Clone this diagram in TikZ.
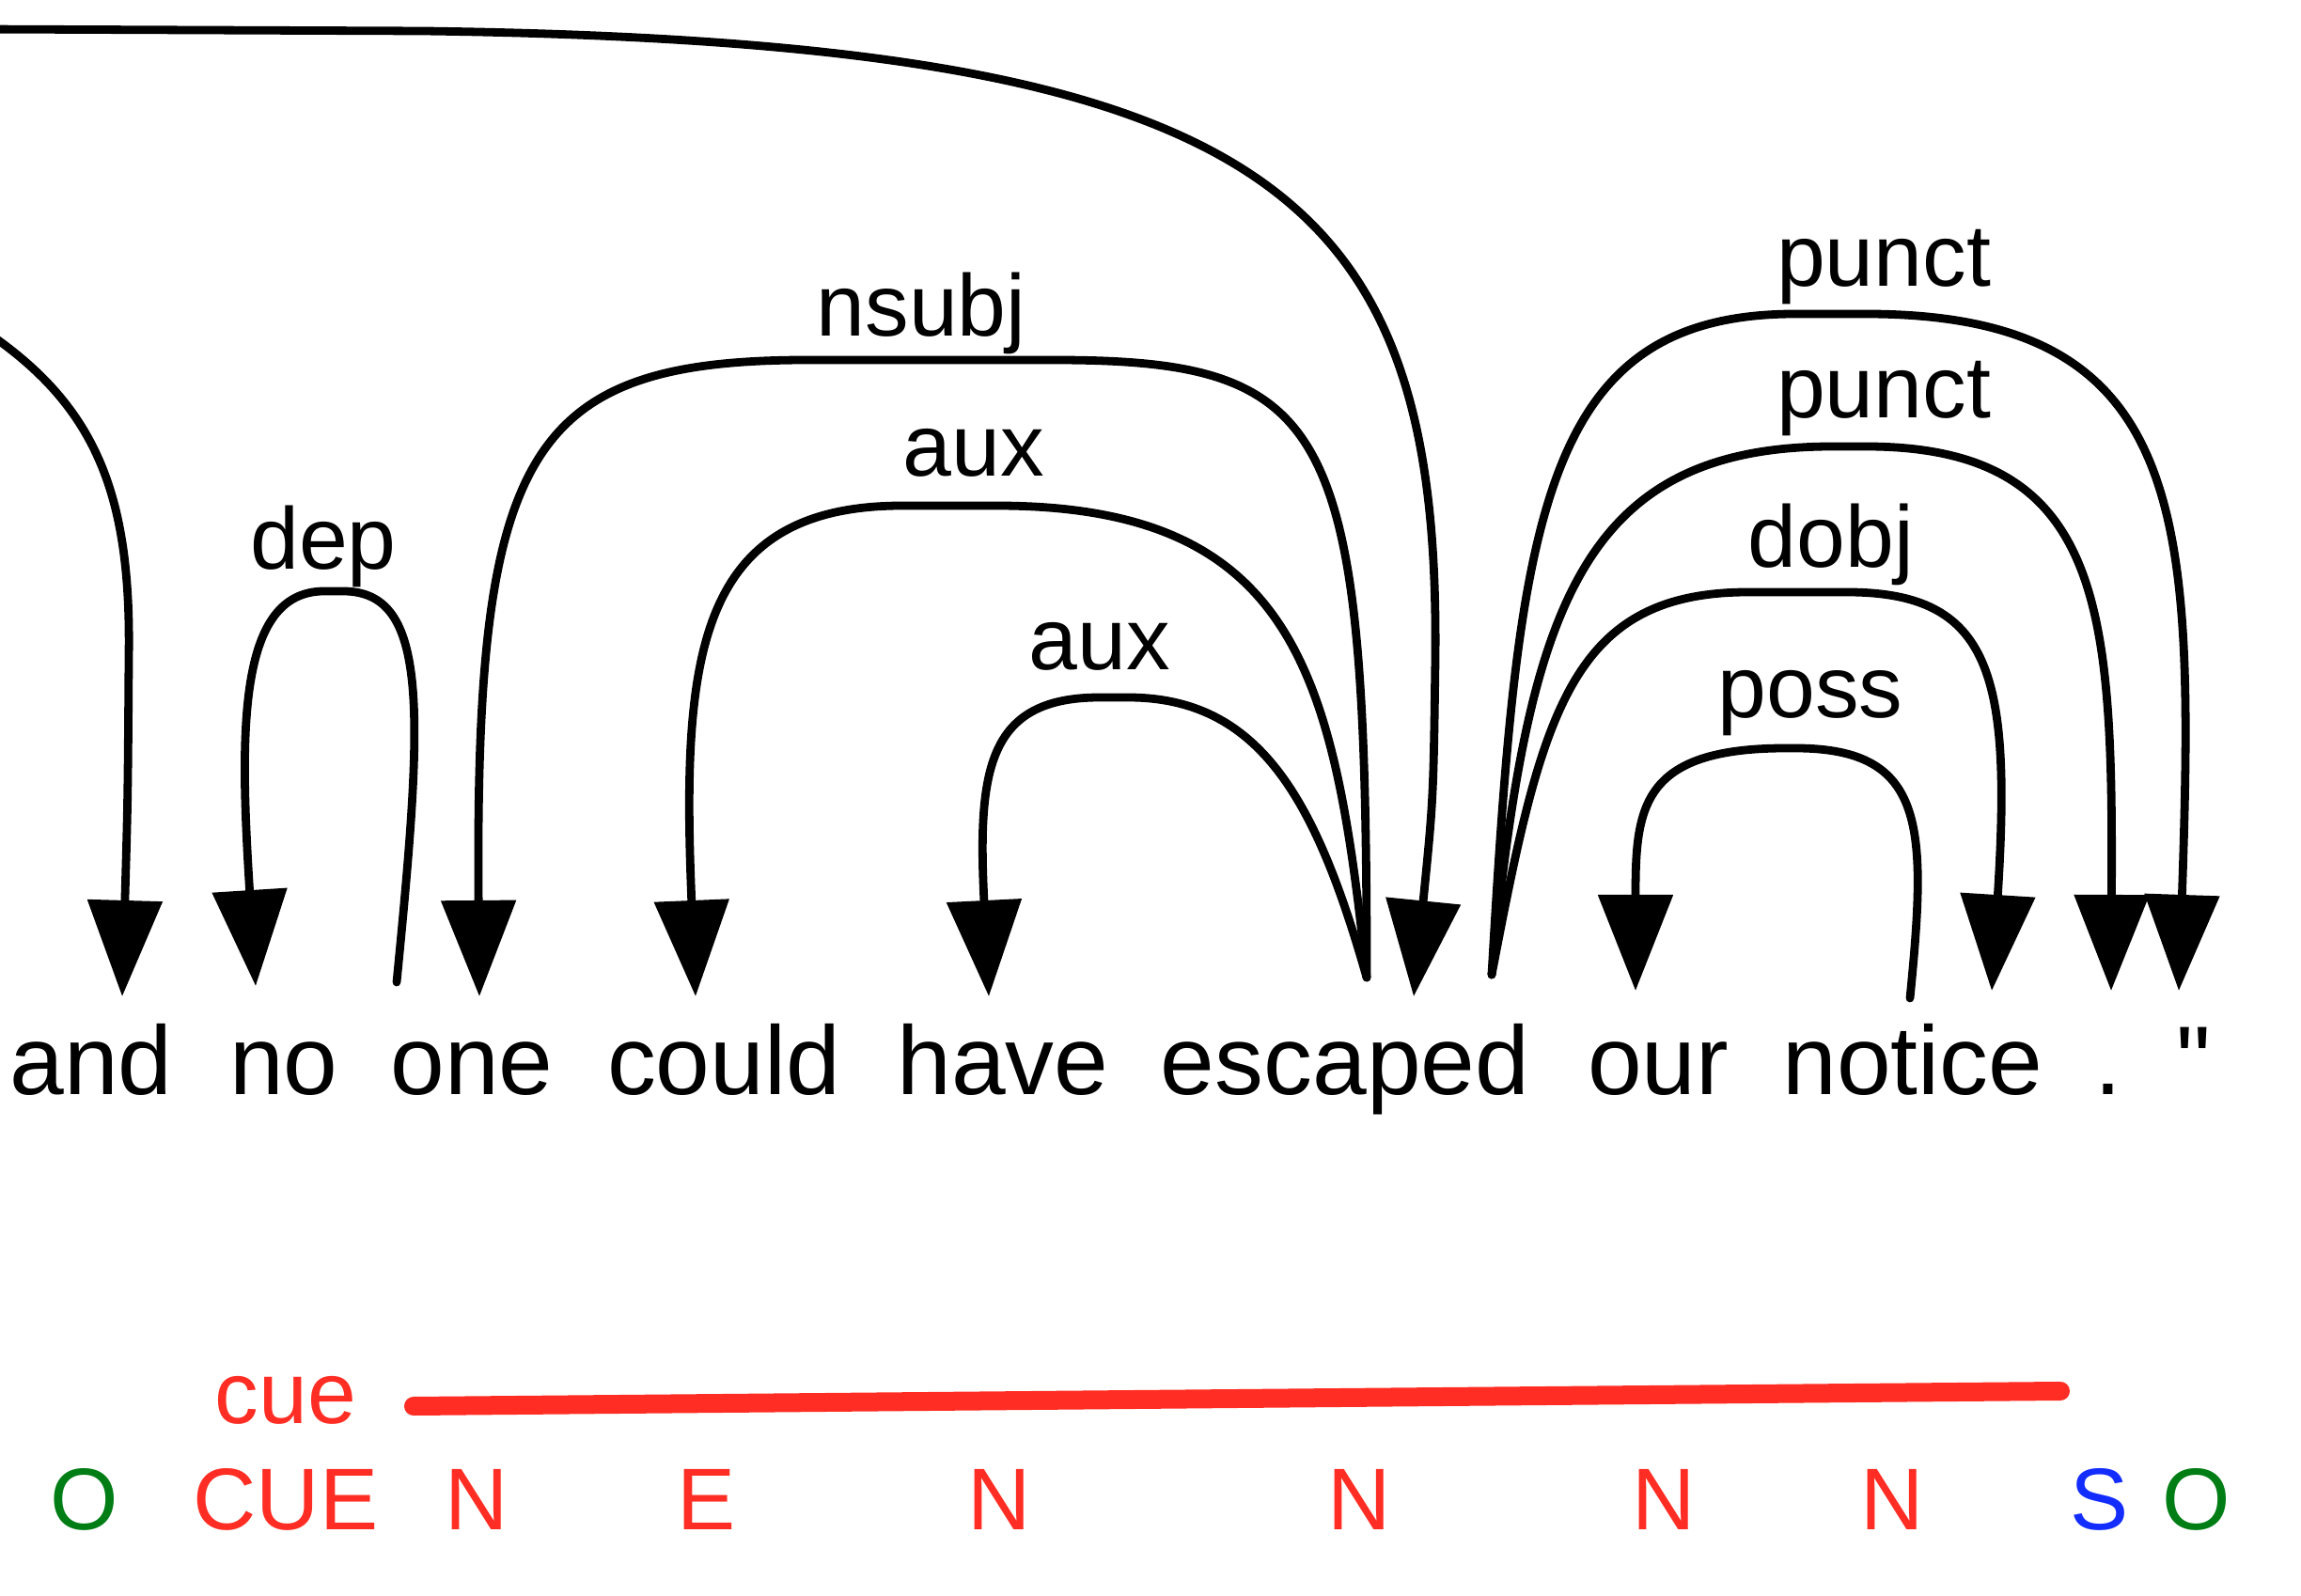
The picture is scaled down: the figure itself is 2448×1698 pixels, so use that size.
\documentclass[tikz,border=0pt]{standalone}
\usepackage{fontspec}
\setmainfont{Liberation Sans}
\newfontfamily\plainsans{Liberation Sans}
\usepackage{xcolor}
\usetikzlibrary{arrows.meta,calc}
\definecolor{tagred}{RGB}{255,45,35}
\definecolor{taggreen}{RGB}{0,125,20}
\definecolor{tagblue}{RGB}{20,45,255}
\tikzset{
  word/.style={anchor=base,inner sep=0pt,font=\fontsize{29.5pt}{34pt}\selectfont},
  lab/.style={anchor=base,inner sep=0pt,font=\fontsize{26.5pt}{30pt}\selectfont},
  tag/.style={anchor=base,inner sep=0pt,font=\fontsize{26.5pt}{30pt}\selectfont},
  arc/.style={-{Triangle[length=1.02cm,width=0.78cm]},line width=2.5pt,line cap=round},
  cuebar/.style={line width=0.2cm,line cap=round,tagred},
}
\begin{document}
\begin{tikzpicture}[x=0.01cm,y=-0.01cm]
\useasboundingbox (0,0) rectangle (2448,1698);
% tokens
\foreach \n/\x/\w in {and/97/and,no/302/no,one/502/one,could/770/could,have/1067/have,
  escaped/1431/escaped,our/1764/our,notice/2035/notice,dot/2243/.,quote/2334/{\plainsans"}}
  \node[word] (\n) at (\x,1165) {\w};
% arc ends on the tokens
\foreach \n/\p/\dx/\dy in {and-in/and/33/-105,no-in/no/-30/-116,one-out/one/-80/-120,
  one-in/one/8/-105,could-in/could/-30/-105,have-in/have/-15/-105,esc-l/escaped/23/-125,
  esc-in/escaped/73/-105,esc-r/escaped/156/-128,our-in/our/-24/-111,
  notice-out/notice/-3/-103,notice-in/notice/84/-111,dot-in/dot/3/-111,quote-in/quote/-16/-111}
  \coordinate (\n) at ([shift={(\dx,\dy)}]\p.base);
\coordinate (root-l) at (-30,31);
\coordinate (and-l) at (-30,343);
% arcs
\draw[arc] (root-l) -- (450,33) .. controls (1350,45) and (1532,200) .. (1527,700) .. controls (1525,850) .. (esc-in);
\draw[arc] (and-l) .. controls (100,425) and (140,520) .. (137,700) .. controls (136,850) .. (and-in);
\draw[arc] (one-out) .. controls (450,760) and (458,629) .. (365,629) -- (345,629) .. controls (252,629) and (255,780) .. (no-in);
\draw[arc] (esc-l) .. controls (1454,450) and (1420,383) .. (1120,383) -- (860,383) .. controls (560,383) and (505,480) .. (one-in);
\draw[arc] (esc-l) .. controls (1420,720) and (1380,538) .. (1060,538) -- (960,538) .. controls (740,538) and (725,700) .. (could-in);
\draw[arc] (esc-l) .. controls (1400,850) and (1340,742) .. (1200,742) -- (1170,742) .. controls (1050,742) and (1040,820) .. (have-in);
\draw[arc] (esc-r) .. controls (1615,550) and (1640,334) .. (1910,334) -- (1985,334) .. controls (2330,334) and (2335,550) .. (quote-in);
\draw[arc] (esc-r) .. controls (1625,650) and (1680,475) .. (1950,475) -- (1985,475) .. controls (2240,475) and (2248,650) .. (dot-in);
\draw[arc] (esc-r) .. controls (1640,760) and (1670,630) .. (1860,630) -- (1965,630) .. controls (2120,630) and (2140,720) .. (notice-in);
\draw[arc] (notice-out) .. controls (2050,880) and (2050,796) .. (1910,796) -- (1900,796) .. controls (1745,796) and (1740,860) .. (our-in);
% arc labels
\node[lab] (l-dep) at (344,606) {dep};
\node[lab] (l-nsubj) at (980,358) {nsubj};
\node[lab] (l-aux1) at (1036,507) {aux};
\node[lab] (l-aux2) at (1170,713) {aux};
\node[lab] (l-punct1) at (2004,305) {punct};
\node[lab] (l-punct2) at (2004,445) {punct};
\node[lab] (l-dobj) at (1948,604) {dobj};
\node[lab] (l-poss) at (1926,764) {poss};
% cue span
\node[lab,text=tagred] (cue) at (304,1514) {cue};
\coordinate (cue-s) at (440,1496);
\coordinate (cue-e) at (2192,1480);
\draw[cuebar] (cue-s) -- (cue-e);
% tags
\foreach \x/\t/\c in {90/O/taggreen,304/CUE/tagred,507/N/tagred,752/E/tagred,1063/N/tagred,
  1446/N/tagred,1770/N/tagred,2013/N/tagred,2234/S/tagblue,2337/O/taggreen}
  \node[tag,text=\c] (t\x) at (\x,1627) {\t};
\end{tikzpicture}
\end{document}
